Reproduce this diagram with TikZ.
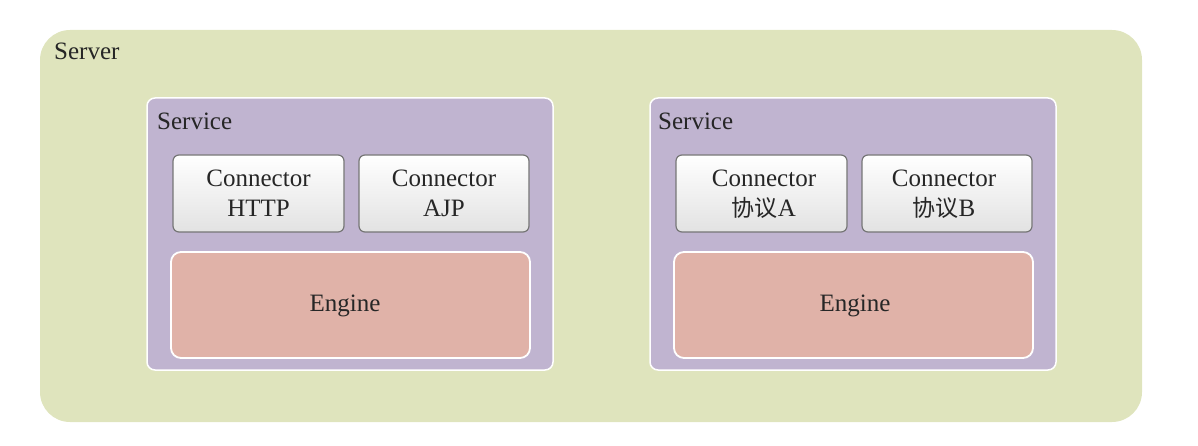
\documentclass[tikz,border=0pt]{standalone}
\usepackage{fontspec}
\setmainfont{Liberation Serif}
\newfontfamily\cjk{Noto Sans CJK SC}
\begin{document}
\begin{tikzpicture}[x=1pt,y=-1pt,
  serverbox/.style={fill=srvgreen,draw=none,rounded corners=30pt},
  servicebox/.style={fill=svcpurple,draw=white,line width=1.5pt,rounded corners=8pt},
  connbox/.style={top color=white,bottom color=conngray,draw=connborder,line width=1.2pt,rounded corners=6pt},
  enginebox/.style={fill=engred,draw=white,line width=1.8pt,rounded corners=10pt},
  lbl/.style={font=\fontsize{25}{30}\selectfont,text=black!85,inner sep=0pt},
  conntext/.style={lbl,align=center}
]
\definecolor{srvgreen}{RGB}{223,228,189}
\definecolor{svcpurple}{RGB}{192,180,208}
\definecolor{engred}{RGB}{224,178,168}
\definecolor{conngray}{RGB}{226,226,226}
\definecolor{connborder}{RGB}{118,118,118}
\useasboundingbox (0,0) rectangle (1198,446);
% Server
\draw[serverbox] (40,30) rectangle (1142,422);
\node[lbl,anchor=base west] (srvlbl) at (54,60) {Server};
% Left service
\draw[servicebox] (147,98) rectangle (553,370);
\node[lbl,anchor=base west] (svc1lbl) at (157,130) {Service};
\draw[connbox] (173,155) rectangle (344,232);
\node[conntext,anchor=base] (c1) at (258.5,217) {Connector\\HTTP};
\draw[connbox] (359,155) rectangle (529,232);
\node[conntext,anchor=base] (c2) at (444,217) {Connector\\AJP};
\draw[enginebox] (171,252) rectangle (530,358);
\node[lbl] (e1) at (345,306) {Engine};
% Right service
\draw[servicebox] (650,98) rectangle (1056,370);
\node[lbl,anchor=base west] (svc2lbl) at (658,130) {Service};
\draw[connbox] (676,155) rectangle (847,232);
\node[conntext,anchor=base] (c3) at (764,217) {Connector\\{\cjk\fontsize{23}{30}\selectfont 协议}A};
\draw[connbox] (862,155) rectangle (1032,232);
\node[conntext,anchor=base] (c4) at (944,217) {Connector\\{\cjk\fontsize{23}{30}\selectfont 协议}B};
\draw[enginebox] (674,252) rectangle (1033,358);
\node[lbl] (e2) at (855,306) {Engine};
\end{tikzpicture}
\end{document}
